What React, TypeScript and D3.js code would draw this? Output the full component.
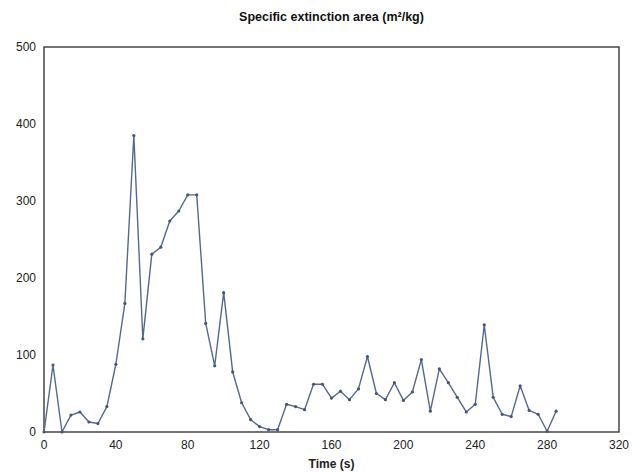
import { useEffect, useRef } from 'react'
import * as d3 from 'd3'

const times = [
  0, 5, 10, 15, 20, 25, 30, 35, 40, 45, 50, 55, 60, 65, 70, 75, 80, 85, 90, 95,
  100, 105, 110, 115, 120, 125, 130, 135, 140, 145, 150, 155, 160, 165, 170, 175, 180, 185, 190, 195,
  200, 205, 210, 215, 220, 225, 230, 235, 240, 245, 250, 255, 260, 265, 270, 275, 280, 285,
]
const sea = [
  0, 87, 0, 22, 26, 13, 11, 33, 88, 167, 385, 121, 231, 240, 274, 287, 308, 308, 141, 86,
  181, 78, 38, 16, 7, 3, 3, 36, 33, 29, 62, 62, 44, 53, 42, 56, 98, 50, 42, 64,
  41, 52, 94, 27, 82, 64, 45, 26, 36, 139, 45, 23, 20, 60, 28, 23, 1, 27,
]
const xTicks = [0, 40, 80, 120, 160, 200, 240, 280, 320]
const yTicks = [0, 100, 200, 300, 400, 500]

const W = 633, H = 472
const M = { left: 44, right: 14, top: 47, bottom: 40 }
const LINE = '#56688e'

export default function App() {
  const ref = useRef<SVGSVGElement>(null)

  useEffect(() => {
    const svg = d3.select(ref.current!)
    svg.selectAll('*').remove()

    const x = d3.scaleLinear().domain([0, 320]).range([M.left, W - M.right])
    const y = d3.scaleLinear().domain([0, 500]).range([H - M.bottom, M.top])

    svg.append('rect').attr('width', W).attr('height', H).attr('fill', '#fff')

    // frame
    svg.append('rect')
      .attr('x', x(0)).attr('y', y(500))
      .attr('width', x(320) - x(0)).attr('height', y(0) - y(500))
      .attr('fill', 'none').attr('stroke', '#3a3a3a').attr('stroke-width', 1.4)

    const font = 'Liberation Sans, Arial, sans-serif'

    svg.append('g').selectAll('text').data(xTicks).join('text')
      .attr('x', d => x(d)).attr('y', y(0) + 17)
      .attr('text-anchor', 'middle').attr('font-family', font).attr('font-size', 12)
      .attr('fill', '#222').text(d => d)

    svg.append('g').selectAll('text').data(yTicks).join('text')
      .attr('x', x(0) - 8).attr('y', d => y(d) + 4)
      .attr('text-anchor', 'end').attr('font-family', font).attr('font-size', 12)
      .attr('fill', '#222').text(d => d)

    svg.append('text').attr('x', (x(0) + x(320)) / 2).attr('y', 21)
      .attr('text-anchor', 'middle').attr('font-family', font).attr('font-size', 12.5)
      .attr('font-weight', 'bold').attr('fill', '#111')
      .text('Specific extinction area (m²/kg)')

    svg.append('text').attr('x', (x(0) + x(320)) / 2).attr('y', H - 4)
      .attr('text-anchor', 'middle').attr('font-family', font).attr('font-size', 12)
      .attr('font-weight', 'bold').attr('fill', '#222')
      .text('Time (s)')

    const pts = times.map((t, i) => [t, sea[i]] as [number, number])
    const line = d3.line<[number, number]>().x(d => x(d[0])).y(d => y(d[1]))

    svg.append('path').datum(pts).attr('fill', 'none')
      .attr('stroke', LINE).attr('stroke-width', 1.4).attr('stroke-linejoin', 'round')
      .attr('d', line)

    svg.append('g').selectAll('circle').data(pts).join('circle')
      .attr('cx', d => x(d[0])).attr('cy', d => y(d[1])).attr('r', 1.6)
      .attr('fill', '#46567a')
  }, [])

  return <svg ref={ref} width={W} height={H} style={{ position: 'absolute', left: 0, top: 0 }} />
}
